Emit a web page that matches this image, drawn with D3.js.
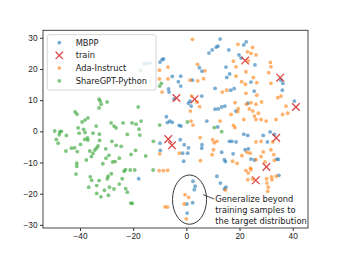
<!DOCTYPE html>
<html>
<head>
<meta charset="utf-8">
<script src="https://cdn.jsdelivr.net/npm/d3@7"></script>
<style>
  body { margin: 0; background: #fff; }
  svg { display: block; font-family: "DejaVu Sans", sans-serif; }
  .tick text { font-size: 8.3px; fill: #222; }
  .tick line, .domain { stroke: #333; }
</style>
</head>
<body>
<div id="chart"></div>
<script>
// t-SNE points, [x, y]
let mbpp = [[-15.9,21.6],[-14.8,21.9],[-13.6,21.9],[-9.9,22.2],[-9.1,23.0],[-8.6,23.2],[-5.3,17.6],[-6.7,13.6],[-6.5,12.6],[12.7,29.6],[8.5,25.1],[9.7,26.1],[11.2,27.0],[11.9,27.3],[16.0,26.1],[19.8,24.5],[20.6,23.5],[25.8,21.3],[14.9,20.6],[5.9,19.3],[4.9,20.4],[16.3,18.4],[15.2,17.3],[35.6,16.4],[36.3,15.4],[24.3,15.8],[-2.1,17.7],[-3.0,15.9],[-2.1,14.5],[2.3,16.4],[10.8,13.8],[16.7,13.2],[18.0,13.7],[25.5,12.9],[36.1,13.2],[-4.6,10.4],[5.8,11.3],[1.8,8.1],[10.8,7.1],[12.0,7.2],[13.3,7.8],[14.5,8.1],[18.6,6.5],[23.1,9.0],[40.6,9.7],[0.8,9.0],[1.4,9.7],[7.7,3.3],[-2.0,1.7],[-2.7,1.9],[11.8,1.4],[-7.5,4.7],[-6.2,3.3],[-7.1,2.8],[-5.3,2.9],[-9.9,-3.8],[-9.8,-6.1],[-17.9,-15.2],[-2.3,-2.7],[-0.8,-4.3],[0.5,-7.0],[-1.4,-7.0],[-1.0,-9.6],[21.6,-0.9],[23.1,-1.3],[5.9,-4.3],[5.8,-5.4],[16.2,-3.2],[17.1,-3.2],[18.7,-3.4],[13.3,-6.7],[17.6,-7.2],[14.3,-9.1],[14.7,-9.7],[22.1,-5.9],[23.3,-5.6],[28.9,-1.3],[30.5,-3.4],[31.5,-0.2],[33.1,-1.0],[24.3,-8.9],[25.6,-9.2],[34.0,-8.9],[34.6,-9.0],[34.8,-14.1],[11.5,-14.4],[12.8,-16.6],[14.9,-17.9],[14.3,-18.5],[2.5,-16.0],[3.3,-17.6],[3.0,-18.7],[0.2,-23.3],[2.4,-22.9],[0.3,-26.2],[0.8,-5.3],[21.6,27.7],[22.5,28.7]]

let train = [[22.1,22.7],[35.3,17.2],[41.2,7.8],[-3.7,10.7],[3.1,10.3],[-6.8,-2.5],[-5.4,-4.5],[33.8,-2.1],[30.1,-11.4],[26.1,-15.7]]

let ada = [[2.3,29.5],[19.4,27.9],[24.9,26.9],[23.0,25.5],[24.3,25.0],[26.2,24.5],[23.3,22.6],[17.7,22.5],[18.7,20.7],[22.4,19.1],[31.6,22.1],[31.8,20.7],[31.0,18.8],[31.8,15.4],[25.2,17.3],[26.5,15.6],[20.8,15.9],[22.2,15.1],[22.4,12.2],[26.5,11.6],[4.2,21.5],[7.0,19.4],[1.4,16.4],[4.3,16.2],[6.5,16.9],[13.5,12.6],[15.2,13.2],[2.0,11.3],[4.0,9.4],[5.0,7.9],[18.3,9.2],[16.8,5.4],[19.3,6.3],[19.5,7.3],[22.6,8.7],[24.3,9.2],[23.7,7.2],[25.0,6.5],[26.2,8.7],[27.1,5.8],[28.3,9.4],[25.6,4.9],[26.2,3.8],[28.1,3.8],[30.0,3.3],[21.6,3.8],[35.6,11.3],[34.4,10.8],[37.5,8.1],[36.2,5.4],[38.1,5.8],[33.7,3.8],[1.8,3.3],[1.5,6.5],[12.7,3.3],[17.7,1.9],[18.3,1.2],[2.5,2.0],[-10.1,19.6],[-6.9,20.6],[-10.1,16.8],[-6.9,16.8],[-9.1,12.6],[-10.0,-7.2],[-10.2,-12.6],[-8.6,-12.6],[-7.0,-12.5],[-8.0,-24.2],[-7.1,-24.3],[5.2,-2.0],[9.9,-2.7],[10.5,-3.7],[11.5,-3.2],[10.2,-5.9],[9.7,-7.5],[5.3,-9.4],[17.4,-9.6],[19.1,-10.3],[20.9,-7.8],[22.8,-6.7],[26.2,-3.4],[28.1,-3.2],[32.5,-3.4],[28.1,-8.1],[28.9,-6.6],[26.2,-9.1],[29.6,-9.8],[31.8,-5.9],[32.9,-7.5],[33.1,-9.3],[22.4,-12.6],[24.3,-12.3],[23.3,-13.4],[24.1,-11.8],[23.1,-15.5],[25.0,-15.3],[30.2,-15.2],[32.0,-14.6],[30.3,-16.6],[30.8,-17.9],[30.6,-19.2],[33.8,-14.4],[32.2,-15.5],[14.7,-18.8],[-0.5,-20.3],[0.9,-21.2],[-0.8,-23.3],[0.0,-28.1],[-2.6,-7.0],[24.0,-7.0],[18.7,17.7]]

let sharegpt = [[-32.8,10.3],[-32.4,9.7],[-32.0,8.7],[-29.8,9.4],[-32.8,7.5],[-18.1,7.8],[-41.8,6.2],[-41.1,5.5],[-37.0,4.3],[-38.1,3.6],[-39.2,3.0],[-33.9,1.7],[-40.7,1.1],[-28.3,2.7],[-27.2,1.7],[-26.4,1.1],[-23.8,2.7],[-20.4,2.7],[-18.9,2.3],[-17.0,3.3],[-17.8,0.7],[-17.5,-1.2],[-22.2,-1.0],[-38.6,0.6],[-40.3,-0.6],[-38.1,-0.4],[-49.5,0.1],[-47.6,-0.2],[-47.0,0.0],[-48.9,-2.6],[-48.2,-3.8],[-45.1,-1.3],[-35.1,-0.6],[-32.6,-2.9],[-38.2,-2.6],[-37.0,-2.8],[-39.8,-4.2],[-33.2,-4.7],[-33.8,-5.4],[-34.4,-6.0],[-43.2,-5.4],[-42.0,-5.3],[-45.3,-6.3],[-30.3,-5.6],[-36.3,-6.3],[-35.1,-7.1],[-35.7,-8.1],[-41.0,-6.5],[-37.6,-9.2],[-41.2,-10.2],[-29.1,-7.7],[-47.8,-1.1],[-37.2,-2.1],[-32.7,-0.9],[-30.2,-8.6],[-31.4,-10.4],[-27.7,-9.8],[-26.8,-9.7],[-25.2,-8.6],[-26.4,-4.5],[-24.5,-4.8],[-28.0,-3.2],[-19.1,-6.1],[-20.8,-7.4],[-15.3,-7.9],[-12.4,-3.2],[-22.9,-12.3],[-23.4,-12.8],[-21.1,-12.4],[-19.4,-12.4],[-28.2,-13.6],[-29.4,-14.4],[-29.7,-15.2],[-32.8,-15.8],[-36.1,-14.6],[-35.6,-15.7],[-36.7,-17.9],[-33.7,-17.4],[-41.5,-13.7],[-41.2,-11.2],[-28.9,-17.9],[-27.2,-18.5],[-30.8,-18.9],[-33.7,-19.9],[-32.1,-21.0],[-29.3,-20.5],[-24.1,-15.2],[-25.2,-16.9],[-22.8,-18.4],[-22.2,-19.5],[-20.9,-23.0],[-20.3,-23.1],[-12.5,-12.4],[-10.0,2.0],[-9.4,15.4],[-10.0,14.5],[-17.2,19.5],[0.4,3.0],[10.5,1.2],[13.3,-0.1]]

let xTicks = [-40, -20, 0, 20, 40]
let yTicks = [-30, -20, -10, 0, 10, 20, 30]
let legendNames = ["MBPP", "train", "Ada-Instruct", "ShareGPT-Python"]
let noteLines = ["Generalize beyond", "training samples to", "the target distribution"]

let width = 343, height = 257
let margin = {top: 30.3, bottom: 29, left: 43, right: 35}

let svg = d3.select("#chart").append("svg")
    .attr("width", width)
    .attr("height", height)

let xScale = d3.scaleLinear().domain([-53.9, 45.75]).range([margin.left, width - margin.right])
let yScale = d3.scaleLinear().domain([-31.0, 32.4]).range([height - margin.bottom, margin.top])

let blue = "#1f77b4", red = "#d62728", orange = "#ff7f0e", green = "#2ca02c"
let r = 1.9

function dots(data, color) {
    svg.append("g").selectAll("circle")
        .data(data).enter().append("circle")
        .attr("cx", d => xScale(d[0]))
        .attr("cy", d => yScale(d[1]))
        .attr("r", r)
        .attr("fill", color)
        .attr("fill-opacity", 0.6)
}

function cross(g, cx, cy, s) {
    g.append("path")
        .attr("d", "M" + (cx-s) + "," + (cy-s) + "L" + (cx+s) + "," + (cy+s) + "M" + (cx-s) + "," + (cy+s) + "L" + (cx+s) + "," + (cy-s))
        .attr("stroke", red)
        .attr("stroke-width", 1.3)
        .attr("stroke-opacity", 0.85)
        .attr("fill", "none")
}

dots(mbpp, blue)
let tg = svg.append("g")
train.forEach(d => cross(tg, xScale(d[0]), yScale(d[1]), 3.8))
dots(ada, orange)
dots(sharegpt, green)

// annotation: ellipse round the far cluster, connector, text
let ell = {cx: 1.2, cy: -21.9, rx: 6.4, ry: 7.9}
svg.append("ellipse")
    .attr("cx", xScale(ell.cx))
    .attr("cy", yScale(ell.cy))
    .attr("rx", xScale(ell.rx) - xScale(0))
    .attr("ry", yScale(0) - yScale(ell.ry))
    .attr("fill", "none")
    .attr("stroke", "#222")
    .attr("stroke-width", 0.9)

svg.append("line")
    .attr("x1", xScale(6.3)).attr("y1", yScale(-20.3))
    .attr("x2", xScale(10.5)).attr("y2", yScale(-21.7))
    .attr("stroke", "#222")
    .attr("stroke-width", 0.8)

svg.append("g").selectAll("text")
    .data(noteLines).enter().append("text")
    .attr("x", xScale(10.9))
    .attr("y", (d, i) => yScale(-21.7) + i * 10.8)
    .attr("dy", "0.35em")
    .style("font-size", "8.3px")
    .attr("fill", "#222")
    .text(d => d)

// axes
svg.append("g")
    .attr("transform", "translate(0," + (height - margin.bottom) + ")")
    .call(d3.axisBottom(xScale).tickValues(xTicks).tickSize(3).tickPadding(2.5))
    .call(g => g.select(".domain").remove())

svg.append("g")
    .attr("transform", "translate(" + margin.left + ",0)")
    .call(d3.axisLeft(yScale).tickValues(yTicks).tickSize(3).tickPadding(2.5))
    .call(g => g.select(".domain").remove())

svg.append("rect")
    .attr("x", margin.left)
    .attr("y", margin.top)
    .attr("width", width - margin.left - margin.right)
    .attr("height", height - margin.top - margin.bottom)
    .attr("fill", "none")
    .attr("stroke", "#333")
    .attr("stroke-width", 0.9)

// legend
let lg = svg.append("g").attr("transform", "translate(47.3,34.7)")
lg.append("rect")
    .attr("width", 108.7).attr("height", 55.3)
    .attr("rx", 2)
    .attr("fill", "#fff").attr("fill-opacity", 0.8)
    .attr("stroke", "#ccc").attr("stroke-width", 0.8)

let legendColors = [blue, red, orange, green]
legendNames.forEach((name, i) => {
    let y = 8 + i * 12.7
    if (name == "train") {
        cross(lg, 12, y, 3.7)
    } else {
        lg.append("circle").attr("cx", 12).attr("cy", y).attr("r", r)
            .attr("fill", legendColors[i]).attr("fill-opacity", 0.6)
    }
    lg.append("text")
        .attr("x", 28.4).attr("y", y).attr("dy", "0.35em")
        .style("font-size", "8.3px")
        .attr("fill", "#222")
        .text(name)
})
</script>
</body>
</html>
